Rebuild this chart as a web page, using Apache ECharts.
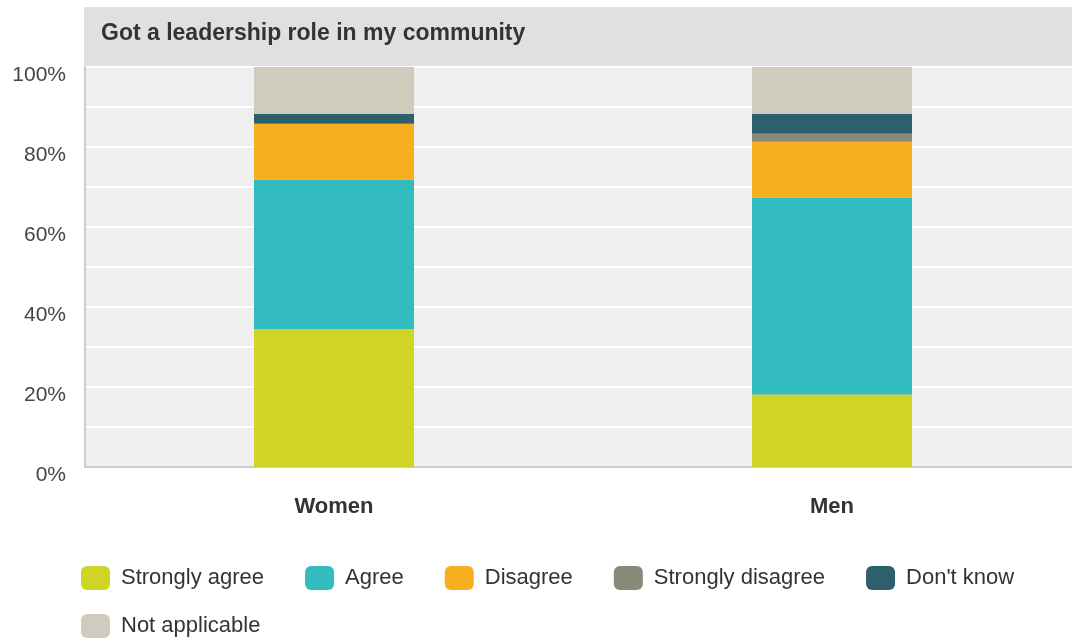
<!DOCTYPE html>
<html>
<head>
<meta charset="utf-8">
<script src="https://cdn.jsdelivr.net/npm/echarts@6/dist/echarts.min.js"></script>
<style>
  html, body { margin: 0; padding: 0; background: #ffffff; overflow: hidden; }
  /* the plot area runs slightly past the right edge of the window */
  #chart { width: 1081px; height: 640px; }
</style>
</head>
<body>
<div id="chart"></div>
<script>
// Survey question and response groups
const chartTitle = 'Got a leadership role in my community';
const categories = ['Women', 'Men'];

// Share of respondents (%) per answer, for Women and Men
const stronglyAgree    = [34.5, 18.1];
const agree            = [37.3, 49.2];
const disagree         = [14.0, 14.0];
const stronglyDisagree = [0.0, 2.0];
const dontKnow         = [2.5, 5.0];
const notApplicable    = [11.7, 11.7];

const seriesNames  = ['Strongly agree', 'Agree', 'Disagree', 'Strongly disagree', "Don't know", 'Not applicable'];
const seriesValues = [stronglyAgree, agree, disagree, stronglyDisagree, dontKnow, notApplicable];
const seriesColors = ['#cfd427', '#33bcbf', '#f6af1f', '#878a78', '#2d5f6c', '#cfccbd'];

const FONT = '"Liberation Sans", Arial, Helvetica, sans-serif';

const legendBase = {
  left: 81,
  padding: 0,
  itemWidth: 29,
  itemHeight: 24,
  itemGap: 41,
  icon: 'roundRect',
  textStyle: { fontSize: 22, color: '#333333', fontFamily: FONT, padding: [0, 0, 0, 6] }
};

const chart = echarts.init(document.getElementById('chart'), null, { renderer: 'canvas' });

chart.setOption({
  animation: false,
  textStyle: { fontFamily: FONT },
  graphic: [
    {
      type: 'rect',
      shape: { x: 84, y: 7, width: 1000, height: 60 },
      style: { fill: '#e0e0e0' },
      z: 0
    },
    {
      type: 'text',
      x: 101,
      y: 34,
      style: {
        text: chartTitle,
        fill: '#333333',
        font: 'bold 23px ' + FONT,
        verticalAlign: 'middle'
      },
      z: 1
    }
  ],
  grid: {
    left: 85,
    top: 67,
    right: 0,
    bottom: 173,
    show: true,
    backgroundColor: '#efefef',
    borderWidth: 0
  },
  legend: [
    Object.assign({}, legendBase, { top: 566, data: seriesNames.slice(0, 5) }),
    Object.assign({}, legendBase, { top: 614, data: seriesNames.slice(5) })
  ],
  xAxis: {
    type: 'category',
    data: categories,
    axisTick: { show: false },
    axisLine: { show: true, lineStyle: { color: '#cccccc', width: 2 } },
    axisLabel: {
      margin: 29,
      fontSize: 22,
      fontWeight: 'bold',
      color: '#333333',
      fontFamily: FONT
    }
  },
  yAxis: {
    type: 'value',
    min: 0,
    max: 100,
    interval: 20,
    axisLine: { show: true, lineStyle: { color: '#cccccc', width: 2 } },
    axisTick: { show: false },
    axisLabel: {
      margin: 19,
      fontSize: 21,
      color: '#444444',
      fontFamily: FONT,
      verticalAlign: 'top',
      lineHeight: 16,
      formatter: v => v + '%'
    },
    splitLine: { show: true, lineStyle: { color: '#ffffff', width: 2 } },
    minorTick: { show: false, splitNumber: 2 },
    minorSplitLine: { show: true, lineStyle: { color: '#ffffff', width: 2 } }
  },
  series: seriesNames.map((name, i) => ({
    name: name,
    type: 'bar',
    stack: 'total',
    barWidth: 160,
    data: seriesValues[i],
    itemStyle: { color: seriesColors[i] },
    emphasis: { disabled: true }
  }))
});
</script>
</body>
</html>
